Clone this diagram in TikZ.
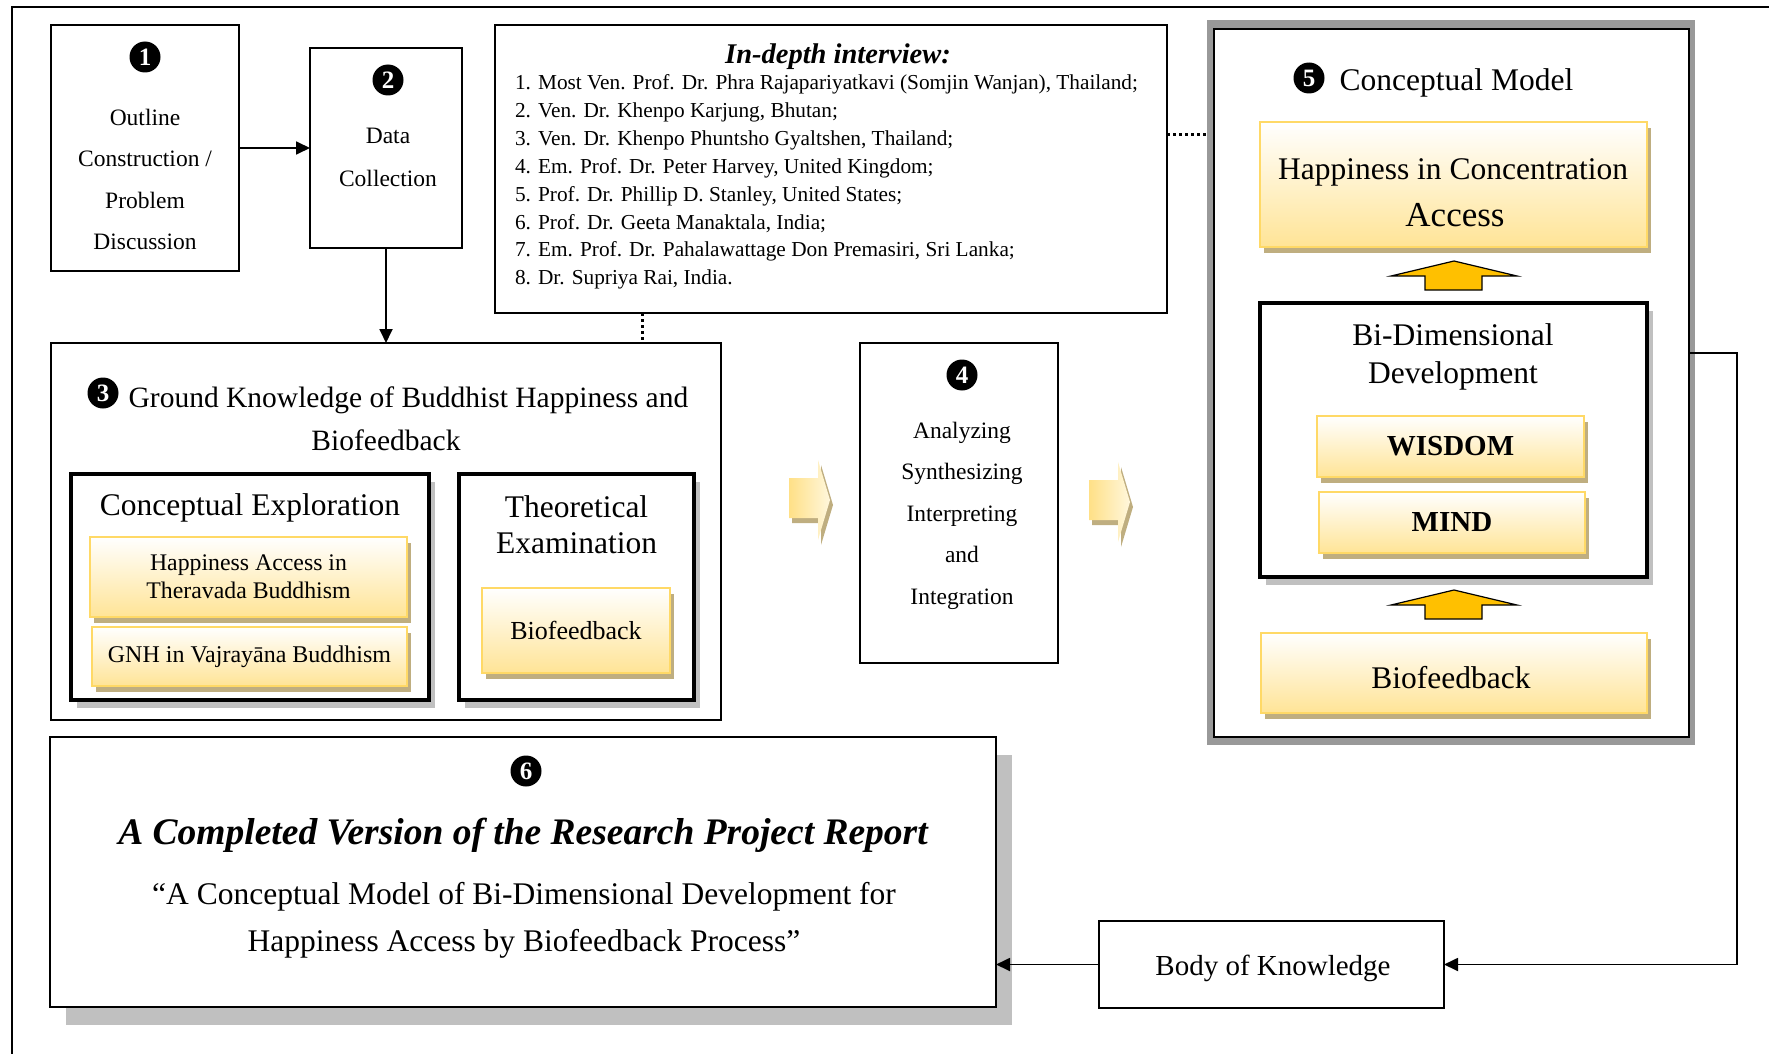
\documentclass[tikz,border=0pt]{standalone}
\usepackage{fontspec}
\setmainfont{Liberation Serif}
\usetikzlibrary{shadows,arrows.meta,calc}

\definecolor{ybord}{RGB}{255,217,102}
\definecolor{yfill}{RGB}{255,228,150}
\definecolor{ytan}{RGB}{191,174,128}
\definecolor{gshade}{RGB}{192,192,192}
\definecolor{frameg}{RGB}{153,153,153}
\definecolor{uparrow}{RGB}{255,192,0}
\definecolor{chevA}{RGB}{255,224,135}
\definecolor{chevB}{RGB}{255,247,220}

\newcommand\fsz[2]{\fontsize{#1}{#2}\selectfont}

\tikzset{
  every node/.style={inner sep=0pt, outer sep=0pt},
  box/.style={draw, line width=1.7pt, rectangle, fill=white},
  heavybox/.style={draw, line width=4pt, fill=white,
    drop shadow={shadow xshift=6pt, shadow yshift=-8pt, fill=gshade, opacity=1}},
  ybox/.style={draw=ybord, line width=2.2pt, top color=white, bottom color=yfill,
    drop shadow={shadow xshift=4pt, shadow yshift=-6pt, fill=ytan, opacity=1}},
  num/.style={circle, fill=black, text=white, minimum size=31pt,
    font=\fsz{25}{25}\bfseries},
  arr/.style={line width=1.8pt, -{Triangle[length=14pt,width=13pt]}},
  dots/.style={line width=3pt, dash pattern=on 3pt off 3pt},
  uparr/.style={draw, line width=1.2pt, fill=uparrow, line join=miter},
  chev/.pic={
    \fill[ytan, shift={(3,5)}] (0,0) -- (29,0) -- (29,-18) -- (41,22) -- (29,62)
      -- (29,40) -- (0,40) -- cycle;
    \shade[left color=chevA, right color=chevB] (0,0) -- (29,0) -- (29,-18)
      -- (41,22) -- (29,62) -- (29,40) -- (0,40) -- cycle;
  }
}

\begin{document}
\begin{tikzpicture}[x=1pt,y=-1pt]
\useasboundingbox (0,0) rectangle (1769,1054);
\clip (0,0) rectangle (1769,1054);

% page frame
\draw[line width=1.7pt] (12,1070) -- (12,7) -- (1790,7);

% step 1
\node[box, minimum width=188pt, minimum height=246pt] (s1) at (145,148) {};
\node[num] (n1) at (145,57) {1};
\node[align=center, font=\fsz{23.5}{41.3}] (t1) at (145,179.5)
  {Outline\\Construction /\\Problem\\Discussion};

% step 2
\node[box, minimum width=152pt, minimum height=200pt] (s2) at (386,148) {};
\node[num] (n2) at (388,80) {2};
\node[align=center, font=\fsz{23.5}{43}] (t2) at (388,157) {Data\\Collection};

% interviews
\node[box, minimum width=672pt, minimum height=288pt] (iv) at (831,169) {};
\node[font=\fsz{28.5}{30}\bfseries\itshape] (ivt) at (838,57) {In-depth interview:};
\node[anchor=west, align=left, font=\fsz{21.3}{27.9}] (ivl) at (515,182)
  {1. Most Ven. Prof. Dr. Phra Rajapariyatkavi (Somjin Wanjan), Thailand;\\
   2. Ven. Dr. Khenpo Karjung, Bhutan;\\
   3. Ven. Dr. Khenpo Phuntsho Gyaltshen, Thailand;\\
   4. Em. Prof. Dr. Peter Harvey, United Kingdom;\\
   5. Prof. Dr. Phillip D. Stanley, United States;\\
   6. Prof. Dr. Geeta Manaktala, India;\\
   7. Em. Prof. Dr. Pahalawattage Don Premasiri, Sri Lanka;\\
   8. Dr. Supriya Rai, India.};

% step 3
\node[box, minimum width=670pt, minimum height=377pt] (s3) at (386,531.5) {};
\node[num] (n3) at (103,393) {3};
\node[font=\fsz{29.5}{40}] (t3a) at (408.5,400) {Ground Knowledge of Buddhist Happiness and};
\node[font=\fsz{29.5}{40}] (t3b) at (386,440) {Biofeedback};

\node[heavybox, minimum width=358pt, minimum height=226pt] (ce) at (250,587) {};
\node[font=\fsz{31.5}{36}] (cet) at (250,508) {Conceptual Exploration};
\node[ybox, minimum width=317pt, minimum height=80pt, align=center,
  font=\fsz{23.8}{28}] (ha) at (248.5,577) {Happiness Access in\\Theravada Buddhism};
\node[ybox, minimum width=315pt, minimum height=59pt, font=\fsz{24}{28}] (gnh)
  at (249.5,656.5) {GNH in Vajrayāna Buddhism};

\node[heavybox, minimum width=235pt, minimum height=226pt] (te) at (576.5,587) {};
\node[align=center, font=\fsz{31.5}{36}] (tet) at (576.5,525) {Theoretical\\Examination};
\node[ybox, minimum width=188pt, minimum height=85pt, font=\fsz{26}{30}] (bf3)
  at (576,630.5) {Biofeedback};

% flow chevrons
\pic at (789,478) {chev};
\pic at (1089,480) {chev};

% step 4
\node[box, minimum width=198pt, minimum height=320pt] (s4) at (959,503) {};
\node[num] (n4) at (962,375) {4};
\node[align=center, font=\fsz{23.5}{41.5}] (t4) at (962,515.5)
  {Analyzing\\Synthesizing\\Interpreting\\and\\Integration};

% step 5
\node[fill=frameg, minimum width=488pt, minimum height=725pt] (m5) at (1451,382.5) {};
\node[draw, line width=2.5pt, fill=white, minimum width=475pt, minimum height=708pt]
  (m5in) at (1451.5,383) {};
\node[num] (n5) at (1309,78) {5};
\node[font=\fsz{31.5}{36}] (t5) at (1456.5,83) {Conceptual Model};

\node[ybox, minimum width=387pt, minimum height=125pt] (hca) at (1453.5,184.5) {};
\node[font=\fsz{31.5}{36}] (hca1) at (1453,172) {Happiness in Concentration};
\node[font=\fsz{35}{40}] (hca2) at (1455,215) {Access};

\draw[uparr] (1454,261) -- (1517,276) -- (1482,276) -- (1482,290) -- (1425,290)
  -- (1425,276) -- (1391,276) -- cycle;

\node[heavybox, minimum width=387pt, minimum height=274pt] (bdd) at (1453.5,440) {};
\node[align=center, font=\fsz{31.5}{38}] (bddt) at (1453,356.5) {Bi-Dimensional\\Development};
\node[ybox, minimum width=267pt, minimum height=61pt, font=\fsz{29}{32}\bfseries]
  (wis) at (1450.5,446.5) {WISDOM};
\node[ybox, minimum width=266pt, minimum height=61pt, font=\fsz{29}{32}\bfseries]
  (mind) at (1452,522.5) {MIND};

\draw[uparr] (1454,590) -- (1517,605) -- (1482,605) -- (1482,619) -- (1425,619)
  -- (1425,605) -- (1391,605) -- cycle;

\node[ybox, minimum width=386pt, minimum height=80pt] (bf5) at (1454,673) {};
\node[font=\fsz{31.5}{36}] (bf5t) at (1451,678) {Biofeedback};

% body of knowledge
\node[box, minimum width=345pt, minimum height=87pt] (bok) at (1271.5,964.5) {};
\node[font=\fsz{29}{32}] (bokt) at (1273,968) {Body of Knowledge};

% step 6
\node[box, minimum width=946pt, minimum height=270pt,
  drop shadow={shadow xshift=16pt, shadow yshift=-18pt, fill=gshade, opacity=1}]
  (s6) at (523,872) {};
\node[num] (n6) at (526,771) {6};
\node[font=\fsz{37.5}{40}\bfseries\itshape] (t6a) at (523,835)
  {A Completed Version of the Research Project Report};
\node[align=center, font=\fsz{31.5}{47}] (t6b) at (524,920)
  {“A Conceptual Model of Bi-Dimensional Development for\\
   Happiness Access by Biofeedback Process”};

% connectors
\draw[arr] (s1) -- (s2);
\draw[arr] (s2) -- (s3);
\coordinate (dv) at (642,0);
\draw[dots] (iv.south -| dv) -- (s3.north -| dv);
\coordinate (dh) at (0,135);
\draw[dots] (iv.east |- dh) -- (m5.west |- dh);
\coordinate (fb) at (1737,353);
\draw[arr] (m5in.east |- fb) -- (fb) |- (bok.east);
\draw[arr] (bok.west) -- (bok.west -| s6.east);
\end{tikzpicture}
\end{document}
